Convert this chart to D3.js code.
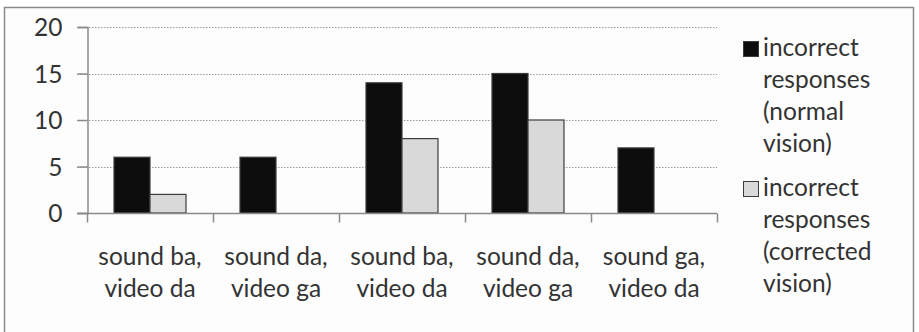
<!DOCTYPE html>
<html>
<head>
<meta charset="utf-8">
<script src="https://cdn.jsdelivr.net/npm/d3@7"></script>
<style>
  html, body { margin: 0; padding: 0; background: #ffffff; }
  svg { display: block; }
  text { font-family: Lato, "Open Sans", sans-serif; fill: #333333; }
</style>
</head>
<body>
<svg id="chart" width="919" height="332"></svg>
<script>
// Category labels (two lines each)
const categories = [
  ["sound ba,", "video da"],
  ["sound da,", "video ga"],
  ["sound ba,", "video da"],
  ["sound da,", "video ga"],
  ["sound ga,", "video da"]
];
const normalVision = [6, 6, 14, 15, 7];
const correctedVision = [2, 0, 8, 10, 0];
const yTicks = [0, 5, 10, 15, 20];
const seriesNames = [
  ["incorrect", "responses", "(normal", "vision)"],
  ["incorrect", "responses", "(corrected", "vision)"]
];
const seriesColors = ["#0d0d0d", "#d9d9d9"];

const svg = d3.select("#chart");
const fontSize = 24.5;
const textColor = "#333333";

// outer chart frame
svg.append("rect")
  .attr("x", 4.5).attr("y", 7.5)
  .attr("width", 909).attr("height", 340)
  .attr("fill", "#fdfdfd")
  .attr("stroke", "#8a8a8a").attr("stroke-width", 1.5);

const plot = { left: 87, right: 717, top: 27, bottom: 213 };

const x = d3.scaleBand()
  .domain(d3.range(categories.length))
  .range([plot.left, plot.right])
  .paddingInner(0).paddingOuter(0);

// two bars per band with a 150% gap
const inner = d3.scaleBand()
  .domain([0, 1])
  .range([0, x.bandwidth()])
  .paddingInner(0)
  .paddingOuter(0.75);

const y = d3.scaleLinear().domain([0, 20]).range([plot.bottom, plot.top]);

// gridlines
svg.append("g")
  .selectAll("line")
  .data(yTicks.filter(d => d > 0))
  .join("line")
  .attr("x1", plot.left - 10).attr("x2", plot.right)
  .attr("y1", d => Math.round(y(d)) + 0.5).attr("y2", d => Math.round(y(d)) + 0.5)
  .attr("stroke", "#9a9a9a").attr("stroke-width", 1)
  .attr("stroke-dasharray", "1.5,1.5");

// y axis
const yAxis = d3.axisLeft(y).tickValues(yTicks).tickSize(10).tickPadding(15);
const gy = svg.append("g")
  .attr("transform", `translate(${plot.left + 0.5},0)`)
  .call(yAxis);
gy.select(".domain").attr("stroke", "#8a8a8a").attr("stroke-width", 1.5);
gy.selectAll(".tick line").attr("stroke", "#8a8a8a").attr("stroke-width", 1.5);
gy.selectAll(".tick text")
  .attr("font-size", fontSize)
  .attr("font-family", "Lato, sans-serif")
  .attr("fill", textColor)
  .attr("dy", "0.36em");

// bars
const series = [normalVision, correctedVision];
series.forEach((vals, si) => {
  svg.append("g")
    .selectAll("rect")
    .data(vals.map((v, i) => ({ v, i })).filter(d => d.v > 0))
    .join("rect")
    .attr("x", d => x(d.i) + inner(si))
    .attr("y", d => y(d.v))
    .attr("width", inner.bandwidth())
    .attr("height", d => y(0) - y(d.v))
    .attr("fill", seriesColors[si])
    .attr("stroke", "#3c3c3c").attr("stroke-width", 1.2);
});

// x axis with boundary ticks between categories
const gx = svg.append("g").attr("transform", `translate(0,${plot.bottom + 0.5})`);
gx.append("line")
  .attr("x1", plot.left - 10).attr("x2", plot.right)
  .attr("stroke", "#8a8a8a").attr("stroke-width", 1.5);
const boundaries = d3.range(categories.length + 1).map(i =>
  i < categories.length ? x(i) : x(categories.length - 1) + x.bandwidth());
gx.selectAll(".bt")
  .data(boundaries)
  .join("line")
  .attr("class", "bt")
  .attr("x1", d => d + 0.5).attr("x2", d => d + 0.5)
  .attr("y1", 0).attr("y2", 9)
  .attr("stroke", "#8a8a8a").attr("stroke-width", 1.5);

// category labels
const lab = svg.append("g")
  .selectAll("text")
  .data(categories)
  .join("text")
  .attr("text-anchor", "middle")
  .attr("font-size", fontSize)
  .attr("transform", (d, i) => `translate(${x(i) + x.bandwidth() / 2},265)`);
lab.selectAll("tspan")
  .data(d => d)
  .join("tspan")
  .attr("x", 0)
  .attr("y", (d, j) => j * 32)
  .text(d => d);

// legend
const legendTops = [41, 181];
const leg = svg.append("g")
  .selectAll("g")
  .data(seriesNames)
  .join("g")
  .attr("transform", (d, i) => `translate(743,${legendTops[i]})`);
leg.append("rect")
  .attr("x", 0.5).attr("y", 0.5)
  .attr("width", 15).attr("height", 15)
  .attr("fill", (d, i) => seriesColors[i])
  .attr("stroke", "#3c3c3c").attr("stroke-width", 1);
leg.append("text")
  .attr("font-size", fontSize)
  .selectAll("tspan")
  .data(d => d)
  .join("tspan")
  .attr("x", 20)
  .attr("y", (d, j) => 15 + j * 32)
  .text(d => d);
</script>
</body>
</html>
